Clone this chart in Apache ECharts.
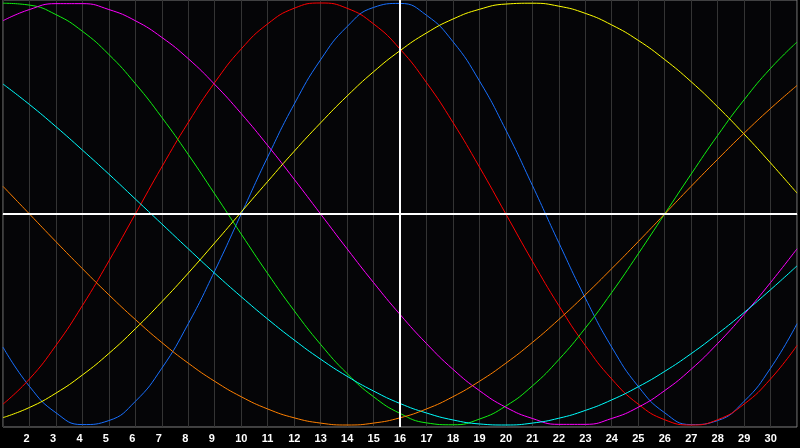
<!DOCTYPE html>
<html>
<head>
<meta charset="utf-8">
<script src="https://cdn.jsdelivr.net/npm/echarts@6/dist/echarts.min.js"></script>
<style>
  html, body { margin: 0; padding: 0; background: #000; }
</style>
</head>
<body>
<div id="main" style="width: 800px; height: 448px;"></div>
<script type="text/javascript">
// days shown on the x axis (1 and 31 sit on the left/right edge, unlabelled)
var days = ['1','2','3','4','5','6','7','8','9','10','11','12','13','14','15','16',
            '17','18','19','20','21','22','23','24','25','26','27','28','29','30','31'];
var today = '16';

// cycle values in percent, one per day
var blue    = [-63.1,-81.7,-94.2,-99.8,-97.9,-88.8,-73.1,-52.0,-27.0,0,27.0,52.0,73.1,88.8,97.9,99.8,
               94.2,81.7,63.1,39.8,13.6,-13.6,-39.8,-63.1,-81.7,-94.2,-99.8,-97.9,-88.8,-73.1,-52.0];
var red     = [-90.1,-78.2,-62.3,-43.4,-22.3,0,22.3,43.4,62.3,78.2,90.1,97.5,100,97.5,90.1,78.2,
               62.3,43.4,22.3,0,-22.3,-43.4,-62.3,-78.2,-90.1,-97.5,-100,-97.5,-90.1,-78.2,-62.3];
var green   = [99.9,99.0,94.5,86.6,75.6,61.8,45.8,28.2,9.5,-9.5,-28.2,-45.8,-61.8,-75.6,-86.6,-94.5,
               -99.0,-99.9,-97.2,-91.0,-81.5,-69.0,-54.1,-37.2,-18.9,0,18.9,37.2,54.1,69.0,81.5];
var magenta = [91.6,96.9,99.7,99.7,96.9,91.6,83.7,73.6,61.4,47.6,32.5,16.5,0,-16.5,-32.5,-47.6,
               -61.4,-73.6,-83.7,-91.6,-96.9,-99.7,-99.7,-96.9,-91.6,-83.7,-73.6,-61.4,-47.6,-32.5,-16.5];
var yellow  = [-96.5,-91.7,-84.9,-76.3,-66.1,-54.4,-41.6,-28.0,-13.7,0.9,15.4,29.7,43.2,55.9,67.4,77.4,
               85.8,92.4,97.0,99.5,99.9,98.5,95.1,89.6,82.3,73.2,62.7,50.8,37.9,24.2,9.9];
var cyan    = [61.6,51.9,41.4,30.3,18.9,7.1,-4.7,-16.5,-28.1,-39.2,-49.8,-59.7,-68.8,-76.9,-83.9,-89.8,
               -94.3,-97.6,-99.5,-100.0,-99.1,-96.8,-93.1,-88.1,-81.9,-74.6,-66.2,-56.8,-46.7,-35.9,-24.6];
var orange  = [13.1,0,-13.1,-25.9,-38.3,-50.0,-60.9,-70.7,-79.3,-86.6,-92.4,-96.6,-99.1,-100,-99.1,-96.6,
               -92.4,-86.6,-79.3,-70.7,-60.9,-50.0,-38.3,-25.9,-13.1,0,13.1,25.9,38.3,50.0,60.9];

var cycles = [
  { name: 'blue',    data: blue,    color: '#1870ff' },
  { name: 'red',     data: red,     color: '#ff0000' },
  { name: 'green',   data: green,   color: '#10f010' },
  { name: 'magenta', data: magenta, color: '#ff00ff' },
  { name: 'yellow',  data: yellow,  color: '#ffff00' },
  { name: 'cyan',    data: cyan,    color: '#00ffff' },
  { name: 'orange',  data: orange,  color: '#ff8000' }
];

var myChart = echarts.init(document.getElementById('main'));

var series = [];
for (var i = 0; i < cycles.length; i++) {
  series.push({
    name: cycles[i].name,
    type: 'line',
    data: cycles[i].data,
    smooth: true,
    symbol: 'none',
    silent: true,
    lineStyle: { color: cycles[i].color, width: 1 }
  });
}
// white centre line and "today" marker
series[0].markLine = {
  silent: true,
  symbol: 'none',
  animation: false,
  label: { show: false },
  lineStyle: { color: '#ffffff', width: 2, type: 'solid' },
  data: [{ yAxis: 0 }, { xAxis: today }]
};

var option = {
  backgroundColor: '#000000',
  animation: false,
  grid: {
    left: 0, right: 0, top: 0, bottom: 21,
    show: true,
    backgroundColor: '#050507',
    borderColor: '#7f7f7f',
    borderWidth: 1
  },
  xAxis: {
    type: 'category',
    data: days,
    boundaryGap: false,
    axisLine: { show: true, lineStyle: { color: '#a0a0a0', width: 1 } },
    axisTick: { show: false },
    splitLine: { show: true, interval: 0, lineStyle: { color: '#343434', width: 1 } },
    axisLabel: {
      interval: 0,
      color: '#ffffff',
      fontFamily: 'Liberation Sans',
      fontWeight: 'bold',
      fontSize: 11,
      margin: 6,
      align: 'left',
      padding: [0, 0, 0, -6],
      formatter: function (v) {
        return (v === days[0] || v === days[days.length - 1]) ? '' : v;
      }
    }
  },
  yAxis: {
    type: 'value',
    min: -100.95,
    max: 101.42,
    show: false,
    splitLine: { show: false }
  },
  series: series
};

myChart.setOption(option);
</script>
</body>
</html>
